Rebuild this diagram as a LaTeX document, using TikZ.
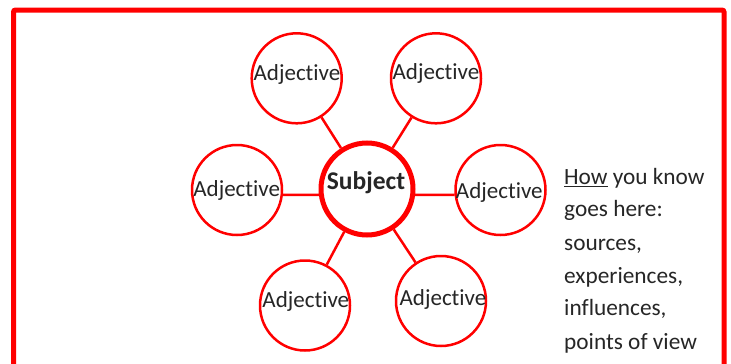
\documentclass[tikz,border=0pt]{standalone}
\usepackage{fontspec}
\setmainfont[RawFeature=-liga]{Carlito}
\definecolor{txt}{HTML}{262626}
\definecolor{rred}{HTML}{FF0000}
\begin{document}
\begin{tikzpicture}[x=1pt,y=-1pt,
  adjc/.style={circle,draw=rred,line width=2.5pt,minimum size=90pt,inner sep=0pt},
  subjc/.style={circle,draw=rred,line width=5pt,minimum size=92pt,inner sep=0pt},
  conn/.style={draw=rred,line width=2.5pt},
  lbl/.style={anchor=base,text=txt,inner sep=0pt,font=\fontsize{23}{27}\selectfont},
  sublbl/.style={anchor=base,text=txt,inner sep=0pt,font=\fontsize{25.5}{30}\selectfont\bfseries},
  rtxt/.style={anchor=base west,text=txt,inner sep=0pt,font=\fontsize{23.3}{27}\selectfont}]
\useasboundingbox (0,0) rectangle (731,364);
\clip (0,0) rectangle (731,364);
\fill[white] (0,0) rectangle (731,364);
\draw[rred,line width=5pt,rounded corners=2pt] (13.5,10) rectangle (724,400);
% circles
\node[subjc] (s) at (367,189) {};
\node[adjc] (tl) at (296.7,78.3) {};
\node[adjc] (tr) at (436,78.3) {};
\node[adjc] (l) at (237,190) {};
\node[adjc] (r) at (500.5,190) {};
\node[adjc] (bl) at (305,305.5) {};
\node[adjc] (br) at (441,301) {};
% connectors
\draw[conn] (s) -- (tl);
\draw[conn] (s) -- (tr);
\draw[conn] (s.187) -- (l.-6);
\draw[conn] (s.-7.5) -- (r.186);
\draw[conn] (s) -- (bl);
\draw[conn] (s) -- (br);
% labels
\node[lbl] (ttl) at (297,80) {Adjective};
\node[lbl] (ttr) at (436,79.3) {Adjective};
\node[lbl] (tlft) at (236.7,196) {Adjective};
\node[lbl] (trgt) at (499.3,198.3) {Adjective};
\node[lbl] (tbl) at (305.8,307.3) {Adjective};
\node[lbl] (tbr) at (443,305) {Adjective};
\node[sublbl] (ts) at (366,189.3) {Subject};
% right text
\node[rtxt] (h1) at (564,184.3) {\underline{How} you know};
\node[rtxt] (h2) at (564,216.7) {goes here:};
\node[rtxt] (h3) at (564,250) {sources,};
\node[rtxt] (h4) at (564,283.3) {experiences,};
\node[rtxt] (h5) at (564,315.7) {influences,};
\node[rtxt] (h6) at (564,349) {points of view};
\end{tikzpicture}
\end{document}
